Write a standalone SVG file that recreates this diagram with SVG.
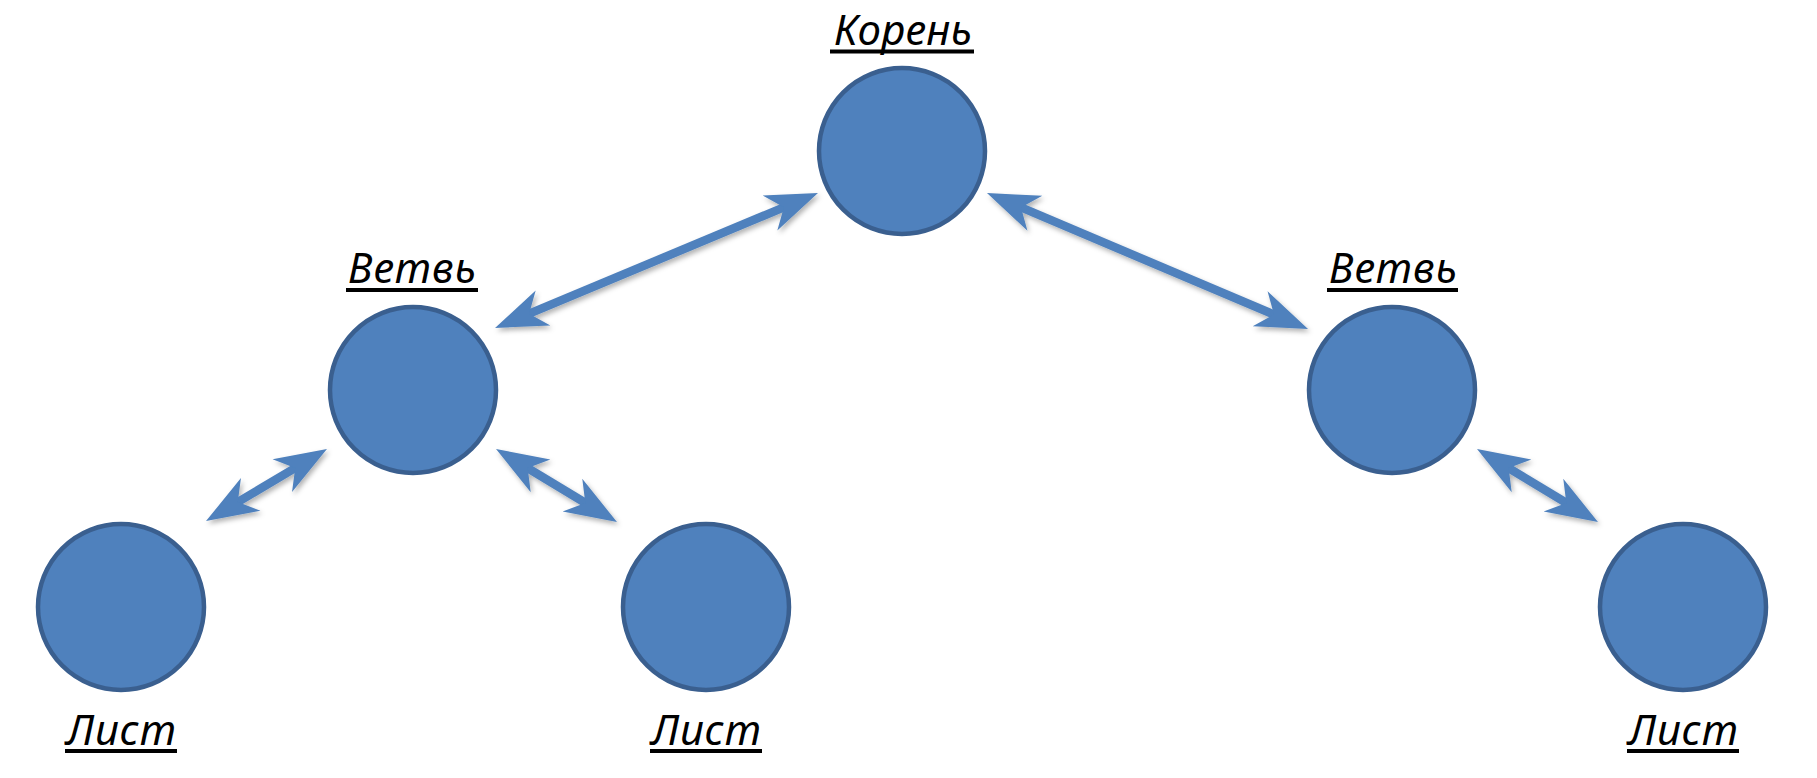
<svg xmlns="http://www.w3.org/2000/svg" width="1817" height="778" viewBox="0 0 1817 778">
  <style>
    .node circle { fill: #4F81BD; stroke: #3A5F8F; stroke-width: 4.5; }
    .label { font-family: "Noto Sans", "Open Sans", "DejaVu Sans", sans-serif; font-style: italic; font-size: 42px; fill: #000; text-anchor: middle; }
    .ul { stroke: #000; stroke-width: 4; }
    .edge { stroke: #4F81BD; stroke-width: 8.5; fill: none; marker-start: url(#head); marker-end: url(#head); }
  </style>
  <defs>
    <marker id="head" viewBox="0 -20 52 40" markerUnits="userSpaceOnUse" markerWidth="52" markerHeight="40" refX="22" refY="0" orient="auto-start-reverse" overflow="visible">
      <path d="M52,0 L0,-19 L15,0 L0,19 Z" fill="#4F81BD"/>
    </marker>
    <filter id="shadow" x="-20%" y="-20%" width="140%" height="140%">
      <feDropShadow dx="2" dy="3" stdDeviation="2.5" flood-color="#000" flood-opacity="0.3"/>
    </filter>
  </defs>
  <rect width="1817" height="778" fill="#fff"/>

  <g id="connectors" filter="url(#shadow)">
    <line class="edge" x1="790.3" y1="204.6" x2="522.7" y2="316.4"/>
    <line class="edge" x1="1014.6" y1="204.7" x2="1280.4" y2="317.3"/>
    <line class="edge" x1="301.2" y1="464.3" x2="231.8" y2="505.7"/>
    <line class="edge" x1="521.7" y1="464.5" x2="591.3" y2="506.5"/>
    <line class="edge" x1="1502.7" y1="464.5" x2="1572.3" y2="506.5"/>
  </g>

  <g id="root" class="node">
    <circle cx="902" cy="151" r="83"/>
    <text class="label" x="903" y="45" textLength="138" lengthAdjust="spacing">Корень</text>
    <line class="ul" x1="830" y1="51.5" x2="974" y2="51.5"/>
  </g>
  <g id="branch-left" class="node">
    <circle cx="413" cy="390" r="83"/>
    <text class="label" x="412" y="283" textLength="128" lengthAdjust="spacing">Ветвь</text>
    <line class="ul" x1="346" y1="290" x2="478" y2="290"/>
  </g>
  <g id="branch-right" class="node">
    <circle cx="1392" cy="390" r="83"/>
    <text class="label" x="1393" y="283" textLength="128" lengthAdjust="spacing">Ветвь</text>
    <line class="ul" x1="1327" y1="290" x2="1458" y2="290"/>
  </g>
  <g id="leaf-1" class="node">
    <circle cx="121" cy="607" r="83"/>
    <text class="label" x="121" y="745" textLength="110" lengthAdjust="spacing">Лист</text>
    <line class="ul" x1="65" y1="751" x2="177" y2="751"/>
  </g>
  <g id="leaf-2" class="node">
    <circle cx="706" cy="607" r="83"/>
    <text class="label" x="706" y="745" textLength="110" lengthAdjust="spacing">Лист</text>
    <line class="ul" x1="650" y1="751" x2="762" y2="751"/>
  </g>
  <g id="leaf-3" class="node">
    <circle cx="1683" cy="607" r="83"/>
    <text class="label" x="1683" y="745" textLength="110" lengthAdjust="spacing">Лист</text>
    <line class="ul" x1="1627" y1="751" x2="1739" y2="751"/>
  </g>
</svg>
